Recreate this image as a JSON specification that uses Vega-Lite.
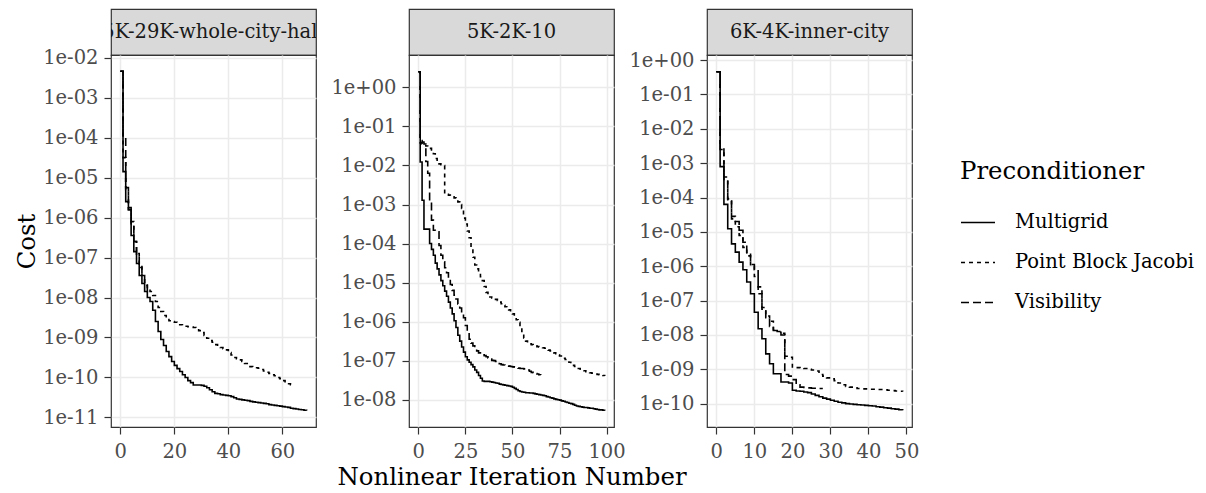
{
"$schema":"https://vega.github.io/schema/vega-lite/v6.json",
"background":"white",
"padding":{"left":13,"top":8,"right":5,"bottom":5},
"config":{
 "font":"DejaVu Serif",
 "view":{"stroke":"#333333","strokeWidth":1.2},
 "axis":{"domain":false,"gridColor":"#ebebeb","gridWidth":1.5,"tickColor":"#333333","tickWidth":1.2,"tickSize":7,"labelPadding":5,"labelFont":"DejaVu Serif","labelFontSize":19.5,"labelColor":"#4d4d4d","titleFont":"DejaVu Serif","titleFontSize":24.4,"titleFontWeight":"normal","titleColor":"#000000"},
 "axisX":{"labelPadding":8},
 "axisY":{"labelPadding":6},
 "legend":{"titleFont":"DejaVu Serif","titleFontSize":24.4,"titleFontWeight":"normal","titleColor":"#000000","titlePadding":20,"titleLimit":400,"labelLimit":400,"labelFont":"DejaVu Serif","labelFontSize":19.5,"labelColor":"#000000","labelOffset":19,"symbolSize":1156,"symbolStrokeWidth":1.5,"symbolStrokeColor":"#000000","rowPadding":12,"symbolType":"stroke","padding":0}
},
"datasets":{
"A":[
{"method":"Multigrid","iter":0,"cost":4.57e-3},{"method":"Multigrid","iter":1,"cost":1.41e-5},{"method":"Multigrid","iter":2,"cost":2.51e-6},{"method":"Multigrid","iter":3,"cost":1.58e-6},{"method":"Multigrid","iter":4,"cost":3.55e-7},{"method":"Multigrid","iter":5,"cost":1.41e-7},{"method":"Multigrid","iter":6,"cost":7.08e-8},{"method":"Multigrid","iter":7,"cost":3.55e-8},{"method":"Multigrid","iter":8,"cost":2.24e-8},{"method":"Multigrid","iter":9,"cost":1.41e-8},
{"method":"Multigrid","iter":10,"cost":1.0e-8},{"method":"Multigrid","iter":11,"cost":7.94e-9},{"method":"Multigrid","iter":12,"cost":4.79e-9},{"method":"Multigrid","iter":13,"cost":2.51e-9},{"method":"Multigrid","iter":14,"cost":1.41e-9},{"method":"Multigrid","iter":15,"cost":8.91e-10},{"method":"Multigrid","iter":16,"cost":6.31e-10},{"method":"Multigrid","iter":17,"cost":4.47e-10},{"method":"Multigrid","iter":18,"cost":3.31e-10},{"method":"Multigrid","iter":19,"cost":2.51e-10},
{"method":"Multigrid","iter":20,"cost":2.0e-10},{"method":"Multigrid","iter":21,"cost":1.66e-10},{"method":"Multigrid","iter":22,"cost":1.41e-10},{"method":"Multigrid","iter":23,"cost":1.17e-10},{"method":"Multigrid","iter":24,"cost":1.0e-10},{"method":"Multigrid","iter":25,"cost":8.32e-11},{"method":"Multigrid","iter":26,"cost":7.41e-11},{"method":"Multigrid","iter":27,"cost":6.46e-11},{"method":"Multigrid","iter":28,"cost":6.46e-11},{"method":"Multigrid","iter":29,"cost":6.46e-11},
{"method":"Multigrid","iter":30,"cost":6.31e-11},{"method":"Multigrid","iter":31,"cost":6.03e-11},{"method":"Multigrid","iter":32,"cost":5.5e-11},{"method":"Multigrid","iter":33,"cost":4.9e-11},{"method":"Multigrid","iter":34,"cost":4.37e-11},{"method":"Multigrid","iter":35,"cost":3.98e-11},{"method":"Multigrid","iter":36,"cost":3.89e-11},{"method":"Multigrid","iter":37,"cost":3.72e-11},{"method":"Multigrid","iter":38,"cost":3.63e-11},{"method":"Multigrid","iter":39,"cost":3.55e-11},
{"method":"Multigrid","iter":40,"cost":3.47e-11},{"method":"Multigrid","iter":41,"cost":3.31e-11},{"method":"Multigrid","iter":42,"cost":3.09e-11},{"method":"Multigrid","iter":43,"cost":2.88e-11},{"method":"Multigrid","iter":44,"cost":2.82e-11},{"method":"Multigrid","iter":45,"cost":2.75e-11},{"method":"Multigrid","iter":46,"cost":2.69e-11},{"method":"Multigrid","iter":47,"cost":2.63e-11},{"method":"Multigrid","iter":48,"cost":2.51e-11},{"method":"Multigrid","iter":49,"cost":2.45e-11},
{"method":"Multigrid","iter":50,"cost":2.4e-11},{"method":"Multigrid","iter":51,"cost":2.34e-11},{"method":"Multigrid","iter":52,"cost":2.29e-11},{"method":"Multigrid","iter":53,"cost":2.24e-11},{"method":"Multigrid","iter":54,"cost":2.19e-11},{"method":"Multigrid","iter":55,"cost":2.09e-11},{"method":"Multigrid","iter":56,"cost":2.04e-11},{"method":"Multigrid","iter":57,"cost":2.0e-11},{"method":"Multigrid","iter":58,"cost":1.95e-11},{"method":"Multigrid","iter":59,"cost":1.91e-11},
{"method":"Multigrid","iter":60,"cost":1.86e-11},{"method":"Multigrid","iter":61,"cost":1.82e-11},{"method":"Multigrid","iter":62,"cost":1.78e-11},{"method":"Multigrid","iter":63,"cost":1.7e-11},{"method":"Multigrid","iter":64,"cost":1.66e-11},{"method":"Multigrid","iter":65,"cost":1.62e-11},{"method":"Multigrid","iter":66,"cost":1.58e-11},{"method":"Multigrid","iter":67,"cost":1.55e-11},{"method":"Multigrid","iter":68,"cost":1.51e-11},{"method":"Multigrid","iter":69,"cost":1.48e-11},
{"method":"Visibility","iter":0,"cost":4.57e-3},{"method":"Visibility","iter":1,"cost":1.12e-4},{"method":"Visibility","iter":2,"cost":5.62e-6},{"method":"Visibility","iter":3,"cost":1.78e-6},{"method":"Visibility","iter":4,"cost":7.94e-7},{"method":"Visibility","iter":5,"cost":2.51e-7},{"method":"Visibility","iter":6,"cost":1.12e-7},{"method":"Visibility","iter":7,"cost":5.62e-8},{"method":"Visibility","iter":8,"cost":3.55e-8},{"method":"Visibility","iter":9,"cost":2.0e-8},{"method":"Visibility","iter":10,"cost":1.26e-8},
{"method":"Point Block Jacobi","iter":0,"cost":4.57e-3},{"method":"Point Block Jacobi","iter":1,"cost":3.16e-5},{"method":"Point Block Jacobi","iter":2,"cost":5.01e-6},{"method":"Point Block Jacobi","iter":3,"cost":1.58e-6},{"method":"Point Block Jacobi","iter":4,"cost":6.31e-7},{"method":"Point Block Jacobi","iter":5,"cost":2.51e-7},{"method":"Point Block Jacobi","iter":6,"cost":1.26e-7},{"method":"Point Block Jacobi","iter":7,"cost":6.31e-8},{"method":"Point Block Jacobi","iter":8,"cost":3.55e-8},{"method":"Point Block Jacobi","iter":9,"cost":2.24e-8},
{"method":"Point Block Jacobi","iter":10,"cost":1.78e-8},{"method":"Point Block Jacobi","iter":11,"cost":1.41e-8},{"method":"Point Block Jacobi","iter":12,"cost":1.12e-8},{"method":"Point Block Jacobi","iter":13,"cost":7.94e-9},{"method":"Point Block Jacobi","iter":14,"cost":5.62e-9},{"method":"Point Block Jacobi","iter":15,"cost":4.47e-9},{"method":"Point Block Jacobi","iter":16,"cost":3.55e-9},{"method":"Point Block Jacobi","iter":17,"cost":3.02e-9},{"method":"Point Block Jacobi","iter":18,"cost":2.63e-9},{"method":"Point Block Jacobi","iter":19,"cost":2.51e-9},
{"method":"Point Block Jacobi","iter":20,"cost":2.4e-9},{"method":"Point Block Jacobi","iter":21,"cost":2.24e-9},{"method":"Point Block Jacobi","iter":22,"cost":2.09e-9},{"method":"Point Block Jacobi","iter":23,"cost":2.0e-9},{"method":"Point Block Jacobi","iter":24,"cost":1.91e-9},{"method":"Point Block Jacobi","iter":25,"cost":1.86e-9},{"method":"Point Block Jacobi","iter":26,"cost":1.82e-9},{"method":"Point Block Jacobi","iter":27,"cost":1.78e-9},{"method":"Point Block Jacobi","iter":28,"cost":1.66e-9},{"method":"Point Block Jacobi","iter":29,"cost":1.48e-9},
{"method":"Point Block Jacobi","iter":30,"cost":1.32e-9},{"method":"Point Block Jacobi","iter":31,"cost":1.12e-9},{"method":"Point Block Jacobi","iter":32,"cost":9.55e-10},{"method":"Point Block Jacobi","iter":33,"cost":8.32e-10},{"method":"Point Block Jacobi","iter":34,"cost":7.59e-10},{"method":"Point Block Jacobi","iter":35,"cost":6.61e-10},{"method":"Point Block Jacobi","iter":36,"cost":6.03e-10},{"method":"Point Block Jacobi","iter":37,"cost":5.62e-10},{"method":"Point Block Jacobi","iter":38,"cost":5.25e-10},{"method":"Point Block Jacobi","iter":39,"cost":4.9e-10},
{"method":"Point Block Jacobi","iter":40,"cost":4.17e-10},{"method":"Point Block Jacobi","iter":41,"cost":3.63e-10},{"method":"Point Block Jacobi","iter":42,"cost":3.16e-10},{"method":"Point Block Jacobi","iter":43,"cost":2.95e-10},{"method":"Point Block Jacobi","iter":44,"cost":2.75e-10},{"method":"Point Block Jacobi","iter":45,"cost":2.51e-10},{"method":"Point Block Jacobi","iter":46,"cost":2.24e-10},{"method":"Point Block Jacobi","iter":47,"cost":2.0e-10},{"method":"Point Block Jacobi","iter":48,"cost":1.86e-10},{"method":"Point Block Jacobi","iter":49,"cost":1.78e-10},
{"method":"Point Block Jacobi","iter":50,"cost":1.74e-10},{"method":"Point Block Jacobi","iter":51,"cost":1.7e-10},{"method":"Point Block Jacobi","iter":52,"cost":1.58e-10},{"method":"Point Block Jacobi","iter":53,"cost":1.45e-10},{"method":"Point Block Jacobi","iter":54,"cost":1.35e-10},{"method":"Point Block Jacobi","iter":55,"cost":1.26e-10},{"method":"Point Block Jacobi","iter":56,"cost":1.17e-10},{"method":"Point Block Jacobi","iter":57,"cost":1.1e-10},{"method":"Point Block Jacobi","iter":58,"cost":1.0e-10},{"method":"Point Block Jacobi","iter":59,"cost":9.33e-11},
{"method":"Point Block Jacobi","iter":60,"cost":8.32e-11},{"method":"Point Block Jacobi","iter":61,"cost":7.41e-11},{"method":"Point Block Jacobi","iter":62,"cost":6.92e-11},{"method":"Point Block Jacobi","iter":63,"cost":6.61e-11},{"method":"Point Block Jacobi","iter":64,"cost":6.46e-11}
],
"B":[
{"method":"Multigrid","iter":0,"cost":2.51},{"method":"Multigrid","iter":1,"cost":1.23e-2},{"method":"Multigrid","iter":2,"cost":1.29e-3},{"method":"Multigrid","iter":3,"cost":2.34e-4},{"method":"Multigrid","iter":4,"cost":2.34e-4},{"method":"Multigrid","iter":5,"cost":2.34e-4},{"method":"Multigrid","iter":6,"cost":1.0e-4},{"method":"Multigrid","iter":7,"cost":7.08e-5},{"method":"Multigrid","iter":8,"cost":5.01e-5},{"method":"Multigrid","iter":9,"cost":3.16e-5},
{"method":"Multigrid","iter":10,"cost":2.24e-5},{"method":"Multigrid","iter":11,"cost":1.58e-5},{"method":"Multigrid","iter":12,"cost":1.12e-5},{"method":"Multigrid","iter":13,"cost":8.32e-6},{"method":"Multigrid","iter":14,"cost":6.03e-6},{"method":"Multigrid","iter":15,"cost":4.47e-6},{"method":"Multigrid","iter":16,"cost":3.16e-6},{"method":"Multigrid","iter":17,"cost":2.24e-6},{"method":"Multigrid","iter":18,"cost":1.58e-6},{"method":"Multigrid","iter":19,"cost":1.05e-6},
{"method":"Multigrid","iter":20,"cost":7.08e-7},{"method":"Multigrid","iter":21,"cost":4.47e-7},{"method":"Multigrid","iter":22,"cost":3.16e-7},{"method":"Multigrid","iter":23,"cost":2.24e-7},{"method":"Multigrid","iter":24,"cost":1.66e-7},{"method":"Multigrid","iter":25,"cost":1.26e-7},{"method":"Multigrid","iter":26,"cost":1.05e-7},{"method":"Multigrid","iter":27,"cost":9.12e-8},{"method":"Multigrid","iter":28,"cost":7.94e-8},{"method":"Multigrid","iter":29,"cost":6.92e-8},
{"method":"Multigrid","iter":30,"cost":5.75e-8},{"method":"Multigrid","iter":31,"cost":5.01e-8},{"method":"Multigrid","iter":32,"cost":4.17e-8},{"method":"Multigrid","iter":33,"cost":3.55e-8},{"method":"Multigrid","iter":34,"cost":3.02e-8},{"method":"Multigrid","iter":35,"cost":2.95e-8},{"method":"Multigrid","iter":36,"cost":2.95e-8},{"method":"Multigrid","iter":37,"cost":2.95e-8},{"method":"Multigrid","iter":38,"cost":2.88e-8},{"method":"Multigrid","iter":39,"cost":2.82e-8},
{"method":"Multigrid","iter":40,"cost":2.75e-8},{"method":"Multigrid","iter":41,"cost":2.69e-8},{"method":"Multigrid","iter":42,"cost":2.63e-8},{"method":"Multigrid","iter":43,"cost":2.51e-8},{"method":"Multigrid","iter":44,"cost":2.45e-8},{"method":"Multigrid","iter":45,"cost":2.4e-8},{"method":"Multigrid","iter":46,"cost":2.34e-8},{"method":"Multigrid","iter":47,"cost":2.29e-8},{"method":"Multigrid","iter":48,"cost":2.24e-8},{"method":"Multigrid","iter":49,"cost":2.19e-8},
{"method":"Multigrid","iter":50,"cost":2.09e-8},{"method":"Multigrid","iter":51,"cost":1.95e-8},{"method":"Multigrid","iter":52,"cost":1.82e-8},{"method":"Multigrid","iter":53,"cost":1.7e-8},{"method":"Multigrid","iter":54,"cost":1.62e-8},{"method":"Multigrid","iter":55,"cost":1.58e-8},{"method":"Multigrid","iter":56,"cost":1.55e-8},{"method":"Multigrid","iter":57,"cost":1.51e-8},{"method":"Multigrid","iter":58,"cost":1.51e-8},{"method":"Multigrid","iter":59,"cost":1.48e-8},
{"method":"Multigrid","iter":60,"cost":1.48e-8},{"method":"Multigrid","iter":61,"cost":1.45e-8},{"method":"Multigrid","iter":62,"cost":1.41e-8},{"method":"Multigrid","iter":63,"cost":1.38e-8},{"method":"Multigrid","iter":64,"cost":1.35e-8},{"method":"Multigrid","iter":65,"cost":1.32e-8},{"method":"Multigrid","iter":66,"cost":1.29e-8},{"method":"Multigrid","iter":67,"cost":1.26e-8},{"method":"Multigrid","iter":68,"cost":1.2e-8},{"method":"Multigrid","iter":69,"cost":1.17e-8},
{"method":"Multigrid","iter":70,"cost":1.12e-8},{"method":"Multigrid","iter":71,"cost":1.1e-8},{"method":"Multigrid","iter":72,"cost":1.05e-8},{"method":"Multigrid","iter":73,"cost":1.02e-8},{"method":"Multigrid","iter":74,"cost":1.0e-8},{"method":"Multigrid","iter":75,"cost":9.77e-9},{"method":"Multigrid","iter":76,"cost":9.33e-9},{"method":"Multigrid","iter":77,"cost":9.12e-9},{"method":"Multigrid","iter":78,"cost":8.71e-9},{"method":"Multigrid","iter":79,"cost":8.51e-9},
{"method":"Multigrid","iter":80,"cost":8.13e-9},{"method":"Multigrid","iter":81,"cost":7.94e-9},{"method":"Multigrid","iter":82,"cost":7.59e-9},{"method":"Multigrid","iter":83,"cost":7.24e-9},{"method":"Multigrid","iter":84,"cost":6.92e-9},{"method":"Multigrid","iter":85,"cost":6.76e-9},{"method":"Multigrid","iter":86,"cost":6.61e-9},{"method":"Multigrid","iter":87,"cost":6.46e-9},{"method":"Multigrid","iter":88,"cost":6.31e-9},{"method":"Multigrid","iter":89,"cost":6.31e-9},
{"method":"Multigrid","iter":90,"cost":6.17e-9},{"method":"Multigrid","iter":91,"cost":6.03e-9},{"method":"Multigrid","iter":92,"cost":6.03e-9},{"method":"Multigrid","iter":93,"cost":5.89e-9},{"method":"Multigrid","iter":94,"cost":5.75e-9},{"method":"Multigrid","iter":95,"cost":5.62e-9},{"method":"Multigrid","iter":96,"cost":5.5e-9},{"method":"Multigrid","iter":97,"cost":5.5e-9},{"method":"Multigrid","iter":98,"cost":5.37e-9},{"method":"Multigrid","iter":99,"cost":5.25e-9},
{"method":"Visibility","iter":0,"cost":2.51},{"method":"Visibility","iter":1,"cost":4.37e-2},{"method":"Visibility","iter":2,"cost":3.98e-2},{"method":"Visibility","iter":3,"cost":3.55e-2},{"method":"Visibility","iter":4,"cost":1.26e-2},{"method":"Visibility","iter":5,"cost":6.31e-3},{"method":"Visibility","iter":6,"cost":1.26e-3},{"method":"Visibility","iter":7,"cost":3.98e-4},{"method":"Visibility","iter":8,"cost":2.19e-4},{"method":"Visibility","iter":9,"cost":2.09e-4},
{"method":"Visibility","iter":10,"cost":2.0e-4},{"method":"Visibility","iter":11,"cost":8.91e-5},{"method":"Visibility","iter":12,"cost":5.01e-5},{"method":"Visibility","iter":13,"cost":3.39e-5},{"method":"Visibility","iter":14,"cost":2.4e-5},{"method":"Visibility","iter":15,"cost":1.78e-5},{"method":"Visibility","iter":16,"cost":1.26e-5},{"method":"Visibility","iter":17,"cost":8.91e-6},{"method":"Visibility","iter":18,"cost":6.31e-6},{"method":"Visibility","iter":19,"cost":4.79e-6},
{"method":"Visibility","iter":20,"cost":3.8e-6},{"method":"Visibility","iter":21,"cost":2.82e-6},{"method":"Visibility","iter":22,"cost":2.24e-6},{"method":"Visibility","iter":23,"cost":1.66e-6},{"method":"Visibility","iter":24,"cost":1.26e-6},{"method":"Visibility","iter":25,"cost":7.94e-7},{"method":"Visibility","iter":26,"cost":5.25e-7},{"method":"Visibility","iter":27,"cost":3.55e-7},{"method":"Visibility","iter":28,"cost":2.82e-7},{"method":"Visibility","iter":29,"cost":2.4e-7},
{"method":"Visibility","iter":30,"cost":2.0e-7},{"method":"Visibility","iter":31,"cost":1.78e-7},{"method":"Visibility","iter":32,"cost":1.58e-7},{"method":"Visibility","iter":33,"cost":1.48e-7},{"method":"Visibility","iter":34,"cost":1.41e-7},{"method":"Visibility","iter":35,"cost":1.35e-7},{"method":"Visibility","iter":36,"cost":1.26e-7},{"method":"Visibility","iter":37,"cost":1.17e-7},{"method":"Visibility","iter":38,"cost":1.1e-7},{"method":"Visibility","iter":39,"cost":1.02e-7},
{"method":"Visibility","iter":40,"cost":1.0e-7},{"method":"Visibility","iter":41,"cost":9.55e-8},{"method":"Visibility","iter":42,"cost":8.91e-8},{"method":"Visibility","iter":43,"cost":8.32e-8},{"method":"Visibility","iter":44,"cost":7.94e-8},{"method":"Visibility","iter":45,"cost":7.76e-8},{"method":"Visibility","iter":46,"cost":7.59e-8},{"method":"Visibility","iter":47,"cost":7.41e-8},{"method":"Visibility","iter":48,"cost":7.24e-8},{"method":"Visibility","iter":49,"cost":7.08e-8},
{"method":"Visibility","iter":50,"cost":6.92e-8},{"method":"Visibility","iter":51,"cost":6.76e-8},{"method":"Visibility","iter":52,"cost":6.61e-8},{"method":"Visibility","iter":53,"cost":6.46e-8},{"method":"Visibility","iter":54,"cost":6.31e-8},{"method":"Visibility","iter":55,"cost":6.31e-8},{"method":"Visibility","iter":56,"cost":6.17e-8},{"method":"Visibility","iter":57,"cost":6.03e-8},{"method":"Visibility","iter":58,"cost":5.75e-8},{"method":"Visibility","iter":59,"cost":5.37e-8},
{"method":"Visibility","iter":60,"cost":5.01e-8},{"method":"Visibility","iter":61,"cost":4.9e-8},{"method":"Visibility","iter":62,"cost":4.68e-8},{"method":"Visibility","iter":63,"cost":4.57e-8},{"method":"Visibility","iter":64,"cost":4.37e-8},{"method":"Visibility","iter":65,"cost":4.27e-8},
{"method":"Point Block Jacobi","iter":0,"cost":2.51},{"method":"Point Block Jacobi","iter":1,"cost":3.8e-2},{"method":"Point Block Jacobi","iter":2,"cost":3.55e-2},{"method":"Point Block Jacobi","iter":3,"cost":3.31e-2},{"method":"Point Block Jacobi","iter":4,"cost":3.16e-2},{"method":"Point Block Jacobi","iter":5,"cost":2.95e-2},{"method":"Point Block Jacobi","iter":6,"cost":2.75e-2},{"method":"Point Block Jacobi","iter":7,"cost":2.51e-2},{"method":"Point Block Jacobi","iter":8,"cost":2.0e-2},{"method":"Point Block Jacobi","iter":9,"cost":1.51e-2},
{"method":"Point Block Jacobi","iter":10,"cost":1.2e-2},{"method":"Point Block Jacobi","iter":11,"cost":1.1e-2},{"method":"Point Block Jacobi","iter":12,"cost":1.05e-2},{"method":"Point Block Jacobi","iter":13,"cost":1.0e-2},{"method":"Point Block Jacobi","iter":14,"cost":1.91e-3},{"method":"Point Block Jacobi","iter":15,"cost":1.82e-3},{"method":"Point Block Jacobi","iter":16,"cost":1.74e-3},{"method":"Point Block Jacobi","iter":17,"cost":1.66e-3},{"method":"Point Block Jacobi","iter":18,"cost":1.58e-3},{"method":"Point Block Jacobi","iter":19,"cost":1.48e-3},
{"method":"Point Block Jacobi","iter":20,"cost":1.35e-3},{"method":"Point Block Jacobi","iter":21,"cost":1.17e-3},{"method":"Point Block Jacobi","iter":22,"cost":1.0e-3},{"method":"Point Block Jacobi","iter":23,"cost":7.94e-4},{"method":"Point Block Jacobi","iter":24,"cost":4.47e-4},{"method":"Point Block Jacobi","iter":25,"cost":3.16e-4},{"method":"Point Block Jacobi","iter":26,"cost":2.09e-4},{"method":"Point Block Jacobi","iter":27,"cost":1.41e-4},{"method":"Point Block Jacobi","iter":28,"cost":7.94e-5},{"method":"Point Block Jacobi","iter":29,"cost":4.47e-5},
{"method":"Point Block Jacobi","iter":30,"cost":2.82e-5},{"method":"Point Block Jacobi","iter":31,"cost":2.24e-5},{"method":"Point Block Jacobi","iter":32,"cost":1.78e-5},{"method":"Point Block Jacobi","iter":33,"cost":1.41e-5},{"method":"Point Block Jacobi","iter":34,"cost":1.12e-5},{"method":"Point Block Jacobi","iter":35,"cost":7.94e-6},{"method":"Point Block Jacobi","iter":36,"cost":5.62e-6},{"method":"Point Block Jacobi","iter":37,"cost":4.68e-6},{"method":"Point Block Jacobi","iter":38,"cost":4.27e-6},{"method":"Point Block Jacobi","iter":39,"cost":4.07e-6},
{"method":"Point Block Jacobi","iter":40,"cost":3.89e-6},{"method":"Point Block Jacobi","iter":41,"cost":3.72e-6},{"method":"Point Block Jacobi","iter":42,"cost":3.47e-6},{"method":"Point Block Jacobi","iter":43,"cost":3.16e-6},{"method":"Point Block Jacobi","iter":44,"cost":2.88e-6},{"method":"Point Block Jacobi","iter":45,"cost":2.63e-6},{"method":"Point Block Jacobi","iter":46,"cost":2.4e-6},{"method":"Point Block Jacobi","iter":47,"cost":2.19e-6},{"method":"Point Block Jacobi","iter":48,"cost":2.0e-6},{"method":"Point Block Jacobi","iter":49,"cost":1.78e-6},
{"method":"Point Block Jacobi","iter":50,"cost":1.58e-6},{"method":"Point Block Jacobi","iter":51,"cost":1.35e-6},{"method":"Point Block Jacobi","iter":52,"cost":1.12e-6},{"method":"Point Block Jacobi","iter":53,"cost":9.55e-7},{"method":"Point Block Jacobi","iter":54,"cost":7.08e-7},{"method":"Point Block Jacobi","iter":55,"cost":5.01e-7},{"method":"Point Block Jacobi","iter":56,"cost":3.8e-7},{"method":"Point Block Jacobi","iter":57,"cost":3.16e-7},{"method":"Point Block Jacobi","iter":58,"cost":2.88e-7},{"method":"Point Block Jacobi","iter":59,"cost":2.69e-7},
{"method":"Point Block Jacobi","iter":60,"cost":2.57e-7},{"method":"Point Block Jacobi","iter":61,"cost":2.51e-7},{"method":"Point Block Jacobi","iter":62,"cost":2.4e-7},{"method":"Point Block Jacobi","iter":63,"cost":2.29e-7},{"method":"Point Block Jacobi","iter":64,"cost":2.24e-7},{"method":"Point Block Jacobi","iter":65,"cost":2.19e-7},{"method":"Point Block Jacobi","iter":66,"cost":2.14e-7},{"method":"Point Block Jacobi","iter":67,"cost":2.09e-7},{"method":"Point Block Jacobi","iter":68,"cost":2.0e-7},{"method":"Point Block Jacobi","iter":69,"cost":1.86e-7},
{"method":"Point Block Jacobi","iter":70,"cost":1.78e-7},{"method":"Point Block Jacobi","iter":71,"cost":1.66e-7},{"method":"Point Block Jacobi","iter":72,"cost":1.58e-7},{"method":"Point Block Jacobi","iter":73,"cost":1.51e-7},{"method":"Point Block Jacobi","iter":74,"cost":1.41e-7},{"method":"Point Block Jacobi","iter":75,"cost":1.32e-7},{"method":"Point Block Jacobi","iter":76,"cost":1.23e-7},{"method":"Point Block Jacobi","iter":77,"cost":1.15e-7},{"method":"Point Block Jacobi","iter":78,"cost":1.07e-7},{"method":"Point Block Jacobi","iter":79,"cost":1.0e-7},
{"method":"Point Block Jacobi","iter":80,"cost":9.12e-8},{"method":"Point Block Jacobi","iter":81,"cost":8.32e-8},{"method":"Point Block Jacobi","iter":82,"cost":7.59e-8},{"method":"Point Block Jacobi","iter":83,"cost":7.08e-8},{"method":"Point Block Jacobi","iter":84,"cost":6.61e-8},{"method":"Point Block Jacobi","iter":85,"cost":6.31e-8},{"method":"Point Block Jacobi","iter":86,"cost":6.03e-8},{"method":"Point Block Jacobi","iter":87,"cost":5.75e-8},{"method":"Point Block Jacobi","iter":88,"cost":5.5e-8},{"method":"Point Block Jacobi","iter":89,"cost":5.25e-8},
{"method":"Point Block Jacobi","iter":90,"cost":5.01e-8},{"method":"Point Block Jacobi","iter":91,"cost":4.9e-8},{"method":"Point Block Jacobi","iter":92,"cost":4.79e-8},{"method":"Point Block Jacobi","iter":93,"cost":4.68e-8},{"method":"Point Block Jacobi","iter":94,"cost":4.57e-8},{"method":"Point Block Jacobi","iter":95,"cost":4.47e-8},{"method":"Point Block Jacobi","iter":96,"cost":4.37e-8},{"method":"Point Block Jacobi","iter":97,"cost":4.27e-8},{"method":"Point Block Jacobi","iter":98,"cost":4.17e-8},{"method":"Point Block Jacobi","iter":99,"cost":4.07e-8}
],
"C":[
{"method":"Multigrid","iter":0,"cost":0.457},{"method":"Multigrid","iter":1,"cost":7.94e-4},{"method":"Multigrid","iter":2,"cost":6.31e-5},{"method":"Multigrid","iter":3,"cost":1.23e-5},{"method":"Multigrid","iter":4,"cost":4.47e-6},{"method":"Multigrid","iter":5,"cost":2.57e-6},{"method":"Multigrid","iter":6,"cost":1.32e-6},{"method":"Multigrid","iter":7,"cost":7.94e-7},{"method":"Multigrid","iter":8,"cost":3.47e-7},{"method":"Multigrid","iter":9,"cost":1.58e-7},
{"method":"Multigrid","iter":10,"cost":4.57e-8},{"method":"Multigrid","iter":11,"cost":1.51e-8},{"method":"Multigrid","iter":12,"cost":7.76e-9},{"method":"Multigrid","iter":13,"cost":2.82e-9},{"method":"Multigrid","iter":14,"cost":1.45e-9},{"method":"Multigrid","iter":15,"cost":7.41e-10},{"method":"Multigrid","iter":16,"cost":7.41e-10},{"method":"Multigrid","iter":17,"cost":4.27e-10},{"method":"Multigrid","iter":18,"cost":4.27e-10},{"method":"Multigrid","iter":19,"cost":3.98e-10},
{"method":"Multigrid","iter":20,"cost":2.45e-10},{"method":"Multigrid","iter":21,"cost":2.34e-10},{"method":"Multigrid","iter":22,"cost":2.29e-10},{"method":"Multigrid","iter":23,"cost":2.19e-10},{"method":"Multigrid","iter":24,"cost":2.09e-10},{"method":"Multigrid","iter":25,"cost":1.91e-10},{"method":"Multigrid","iter":26,"cost":1.74e-10},{"method":"Multigrid","iter":27,"cost":1.58e-10},{"method":"Multigrid","iter":28,"cost":1.45e-10},{"method":"Multigrid","iter":29,"cost":1.35e-10},
{"method":"Multigrid","iter":30,"cost":1.26e-10},{"method":"Multigrid","iter":31,"cost":1.17e-10},{"method":"Multigrid","iter":32,"cost":1.1e-10},{"method":"Multigrid","iter":33,"cost":1.05e-10},{"method":"Multigrid","iter":34,"cost":1.0e-10},{"method":"Multigrid","iter":35,"cost":9.77e-11},{"method":"Multigrid","iter":36,"cost":9.55e-11},{"method":"Multigrid","iter":37,"cost":9.33e-11},{"method":"Multigrid","iter":38,"cost":9.12e-11},{"method":"Multigrid","iter":39,"cost":8.91e-11},
{"method":"Multigrid","iter":40,"cost":8.71e-11},{"method":"Multigrid","iter":41,"cost":8.51e-11},{"method":"Multigrid","iter":42,"cost":8.13e-11},{"method":"Multigrid","iter":43,"cost":7.94e-11},{"method":"Multigrid","iter":44,"cost":7.59e-11},{"method":"Multigrid","iter":45,"cost":7.41e-11},{"method":"Multigrid","iter":46,"cost":7.08e-11},{"method":"Multigrid","iter":47,"cost":6.92e-11},{"method":"Multigrid","iter":48,"cost":6.61e-11},{"method":"Multigrid","iter":49,"cost":6.46e-11},
{"method":"Visibility","iter":0,"cost":0.457},{"method":"Visibility","iter":1,"cost":2.88e-3},{"method":"Visibility","iter":2,"cost":3.98e-4},{"method":"Visibility","iter":3,"cost":9.12e-5},{"method":"Visibility","iter":4,"cost":2.4e-5},{"method":"Visibility","iter":5,"cost":2.0e-5},{"method":"Visibility","iter":6,"cost":1.12e-5},{"method":"Visibility","iter":7,"cost":5.01e-6},{"method":"Visibility","iter":8,"cost":2.51e-6},{"method":"Visibility","iter":9,"cost":1.12e-6},
{"method":"Visibility","iter":10,"cost":7.94e-7},{"method":"Visibility","iter":11,"cost":2.51e-7},{"method":"Visibility","iter":12,"cost":5.62e-8},{"method":"Visibility","iter":13,"cost":3.16e-8},{"method":"Visibility","iter":14,"cost":1.78e-8},{"method":"Visibility","iter":15,"cost":1.35e-8},{"method":"Visibility","iter":16,"cost":1.2e-8},{"method":"Visibility","iter":17,"cost":1.0e-8},{"method":"Visibility","iter":18,"cost":7.08e-10},{"method":"Visibility","iter":19,"cost":6.31e-10},
{"method":"Visibility","iter":20,"cost":5.01e-10},{"method":"Visibility","iter":21,"cost":3.55e-10},{"method":"Visibility","iter":22,"cost":3.02e-10},{"method":"Visibility","iter":23,"cost":2.95e-10},{"method":"Visibility","iter":24,"cost":2.88e-10},{"method":"Visibility","iter":25,"cost":2.82e-10},{"method":"Visibility","iter":26,"cost":2.82e-10},{"method":"Visibility","iter":27,"cost":2.75e-10},{"method":"Visibility","iter":28,"cost":2.75e-10},
{"method":"Point Block Jacobi","iter":0,"cost":0.457},{"method":"Point Block Jacobi","iter":1,"cost":2.51e-3},{"method":"Point Block Jacobi","iter":2,"cost":3.16e-4},{"method":"Point Block Jacobi","iter":3,"cost":7.94e-5},{"method":"Point Block Jacobi","iter":4,"cost":2.82e-5},{"method":"Point Block Jacobi","iter":5,"cost":1.41e-5},{"method":"Point Block Jacobi","iter":6,"cost":7.94e-6},{"method":"Point Block Jacobi","iter":7,"cost":3.55e-6},{"method":"Point Block Jacobi","iter":8,"cost":2.0e-6},{"method":"Point Block Jacobi","iter":9,"cost":1.0e-6},
{"method":"Point Block Jacobi","iter":10,"cost":5.01e-7},{"method":"Point Block Jacobi","iter":11,"cost":1.58e-7},{"method":"Point Block Jacobi","iter":12,"cost":6.31e-8},{"method":"Point Block Jacobi","iter":13,"cost":3.55e-8},{"method":"Point Block Jacobi","iter":14,"cost":2.51e-8},{"method":"Point Block Jacobi","iter":15,"cost":1.41e-8},{"method":"Point Block Jacobi","iter":16,"cost":1.26e-8},{"method":"Point Block Jacobi","iter":17,"cost":1.12e-8},{"method":"Point Block Jacobi","iter":18,"cost":2.4e-9},{"method":"Point Block Jacobi","iter":19,"cost":2.24e-9},
{"method":"Point Block Jacobi","iter":20,"cost":1.17e-9},{"method":"Point Block Jacobi","iter":21,"cost":1.12e-9},{"method":"Point Block Jacobi","iter":22,"cost":1.07e-9},{"method":"Point Block Jacobi","iter":23,"cost":1.05e-9},{"method":"Point Block Jacobi","iter":24,"cost":1.0e-9},{"method":"Point Block Jacobi","iter":25,"cost":9.55e-10},{"method":"Point Block Jacobi","iter":26,"cost":8.91e-10},{"method":"Point Block Jacobi","iter":27,"cost":7.08e-10},{"method":"Point Block Jacobi","iter":28,"cost":6.31e-10},{"method":"Point Block Jacobi","iter":29,"cost":5.62e-10},
{"method":"Point Block Jacobi","iter":30,"cost":5.25e-10},{"method":"Point Block Jacobi","iter":31,"cost":4.68e-10},{"method":"Point Block Jacobi","iter":32,"cost":3.98e-10},{"method":"Point Block Jacobi","iter":33,"cost":3.55e-10},{"method":"Point Block Jacobi","iter":34,"cost":3.16e-10},{"method":"Point Block Jacobi","iter":35,"cost":3.02e-10},{"method":"Point Block Jacobi","iter":36,"cost":2.88e-10},{"method":"Point Block Jacobi","iter":37,"cost":2.75e-10},{"method":"Point Block Jacobi","iter":38,"cost":2.69e-10},{"method":"Point Block Jacobi","iter":39,"cost":2.69e-10},
{"method":"Point Block Jacobi","iter":40,"cost":2.63e-10},{"method":"Point Block Jacobi","iter":41,"cost":2.63e-10},{"method":"Point Block Jacobi","iter":42,"cost":2.57e-10},{"method":"Point Block Jacobi","iter":43,"cost":2.57e-10},{"method":"Point Block Jacobi","iter":44,"cost":2.51e-10},{"method":"Point Block Jacobi","iter":45,"cost":2.45e-10},{"method":"Point Block Jacobi","iter":46,"cost":2.4e-10},{"method":"Point Block Jacobi","iter":47,"cost":2.34e-10},{"method":"Point Block Jacobi","iter":48,"cost":2.29e-10},{"method":"Point Block Jacobi","iter":49,"cost":2.24e-10}
]
},
"concat":[
 {"data":{"values":[{"panel":"5K-29K-whole-city-half"}]},"width":205,"height":46,"view":{"fill":"#d9d9d9","stroke":"#333333","strokeWidth":1.2},"mark":{"type":"text","clip":true,"font":"DejaVu Serif","fontSize":19.5,"color":"#1a1a1a"},"encoding":{"text":{"field":"panel","type":"nominal"}}},
 {"data":{"values":[{"panel":"5K-2K-10"}]},"width":205,"height":46,"view":{"fill":"#d9d9d9","stroke":"#333333","strokeWidth":1.2},"mark":{"type":"text","clip":true,"font":"DejaVu Serif","fontSize":19.5,"color":"#1a1a1a"},"encoding":{"text":{"field":"panel","type":"nominal"}}},
 {"data":{"values":[{"panel":"6K-4K-inner-city"}]},"width":205,"height":46,"view":{"fill":"#d9d9d9","stroke":"#333333","strokeWidth":1.2},"mark":{"type":"text","clip":true,"font":"DejaVu Serif","fontSize":19.5,"color":"#1a1a1a"},"encoding":{"text":{"field":"panel","type":"nominal"}}},
 {"data":{"name":"A"},"width":205,"height":372,
  "mark":{"type":"line","interpolate":"step-after","strokeWidth":1.6,"color":"#000000"},
  "encoding":{
   "x":{"field":"iter","type":"quantitative","scale":{"domain":[-3.45,72.45],"nice":false,"zero":false},"axis":{"values":[0,20,40,60],"title":null}},
   "y":{"field":"cost","type":"quantitative","scale":{"type":"log","domain":[5.75e-12,1.17e-2],"nice":false},"axis":{"values":[1e-2,1e-3,1e-4,1e-5,1e-6,1e-7,1e-8,1e-9,1e-10,1e-11],"title":"Cost","titlePadding":4,"minExtent":68,"maxExtent":68,"labelExpr":"'1e' + (datum.value < 0.5 ? '-' : '+') + pad('' + abs(round(log(datum.value) / LN10)), 2, '0', 'left')"}},
   "strokeDash":{"field":"method","type":"nominal","scale":{"domain":["Multigrid","Point Block Jacobi","Visibility"],"range":[[1,0],[4,4],[8,4]]},"legend":{"title":"Preconditioner","orient":"none","legendX":849,"legendY":151}}
  }},
 {"data":{"name":"B"},"width":205,"height":372,
  "mark":{"type":"line","interpolate":"step-after","strokeWidth":1.6,"color":"#000000"},
  "encoding":{
   "x":{"field":"iter","type":"quantitative","scale":{"domain":[-4.95,103.95],"nice":false,"zero":false},"axis":{"values":[0,25,50,75,100],"title":"Nonlinear Iteration Number","titlePadding":5}},
   "y":{"field":"cost","type":"quantitative","scale":{"type":"log","domain":[2.0e-9,6.76],"nice":false},"axis":{"values":[1,1e-1,1e-2,1e-3,1e-4,1e-5,1e-6,1e-7,1e-8],"title":null,"labelExpr":"'1e' + (datum.value < 0.5 ? '-' : '+') + pad('' + abs(round(log(datum.value) / LN10)), 2, '0', 'left')"}},
   "strokeDash":{"field":"method","type":"nominal","scale":{"domain":["Multigrid","Point Block Jacobi","Visibility"],"range":[[1,0],[4,4],[8,4]]},"legend":{"title":"Preconditioner","orient":"none","legendX":849,"legendY":151}}
  }},
 {"data":{"name":"C"},"width":205,"height":372,
  "mark":{"type":"line","interpolate":"step-after","strokeWidth":1.6,"color":"#000000"},
  "encoding":{
   "x":{"field":"iter","type":"quantitative","scale":{"domain":[-2.45,51.45],"nice":false,"zero":false},"axis":{"values":[0,10,20,30,40,50],"title":null}},
   "y":{"field":"cost","type":"quantitative","scale":{"type":"log","domain":[2.09e-11,1.41],"nice":false},"axis":{"values":[1,1e-1,1e-2,1e-3,1e-4,1e-5,1e-6,1e-7,1e-8,1e-9,1e-10],"title":null,"labelExpr":"'1e' + (datum.value < 0.5 ? '-' : '+') + pad('' + abs(round(log(datum.value) / LN10)), 2, '0', 'left')"}},
   "strokeDash":{"field":"method","type":"nominal","scale":{"domain":["Multigrid","Point Block Jacobi","Visibility"],"range":[[1,0],[4,4],[8,4]]},"legend":{"title":"Preconditioner","orient":"none","legendX":849,"legendY":151}}
  }}
],
"columns":3,
"bounds":"flush",
"spacing":{"row":0,"column":93},
"resolve":{"scale":{"x":"independent","y":"independent","strokeDash":"shared"}}
}
